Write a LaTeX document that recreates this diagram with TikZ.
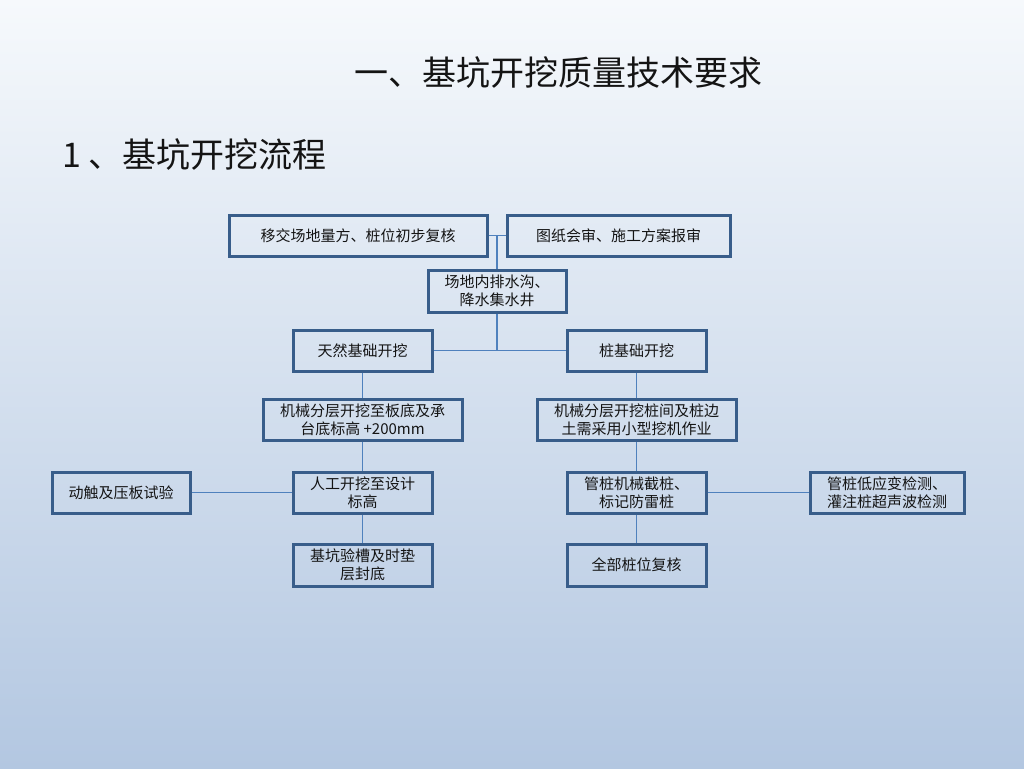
\documentclass[tikz,border=0pt]{standalone}
\usepackage{fontspec}
\setmainfont{Noto Sans CJK SC}
\definecolor{bgtop}{HTML}{F6F9FC}
\definecolor{bgbot}{HTML}{B3C7E1}
\definecolor{boxline}{HTML}{385D8A}
\definecolor{conn}{HTML}{4F81BD}
\begin{document}
\begin{tikzpicture}[x=1pt,y=-1pt,
  stepbox/.style={draw=boxline,line width=3pt,inner sep=0pt,align=center,
    font=\fontsize{15pt}{18pt}\selectfont,text=black!92},
  link/.style={draw=conn,line width=1.5pt}]
\shade[top color=bgtop,bottom color=bgbot] (0,0) rectangle (1024,768);
\useasboundingbox (0,0) rectangle (1024,768);
\node[anchor=center,font=\fontsize{34pt}{38pt}\selectfont,text=black!92] (title) at (558.5,73) {一、基坑开挖质量技术要求};
\node[anchor=west,font=\fontsize{34pt}{38pt}\selectfont,text=black!92,inner sep=0pt] (sub) at (62,155) {1 、基坑开挖流程};
% boxes
\node[stepbox,minimum width=258pt,minimum height=41pt] (b1) at (358,235.5) {移交场地量方、桩位初步复核};
\node[stepbox,minimum width=223pt,minimum height=41pt] (b2) at (618.5,235.5) {图纸会审、施工方案报审};
\node[stepbox,minimum width=138pt,minimum height=42pt] (b3) at (497,291) {场地内排水沟、\\降水集水井};
\node[stepbox,minimum width=139pt,minimum height=41pt] (b4) at (362.5,350.5) {天然基础开挖};
\node[stepbox,minimum width=139pt,minimum height=41pt] (b5) at (636.5,350.5) {桩基础开挖};
\node[stepbox,minimum width=199pt,minimum height=41pt] (b6) at (362.5,419.5) {机械分层开挖至板底及承\\台底标高 +200mm};
\node[stepbox,minimum width=199pt,minimum height=41pt] (b7) at (636.5,419.5) {机械分层开挖桩间及桩边\\土需采用小型挖机作业};
\node[stepbox,minimum width=138pt,minimum height=41pt] (b8) at (121,492.5) {动触及压板试验};
\node[stepbox,minimum width=139pt,minimum height=41pt] (b9) at (362.5,492.5) {人工开挖至设计\\标高};
\node[stepbox,minimum width=139pt,minimum height=41pt] (b10) at (636.5,492.5) {管桩机械截桩、\\标记防雷桩};
\node[stepbox,minimum width=154pt,minimum height=41pt] (b11) at (887,492.5) {管桩低应变检测、\\灌注桩超声波检测};
\node[stepbox,minimum width=139pt,minimum height=42pt] (b12) at (362.5,565) {基坑验槽及时垫\\层封底};
\node[stepbox,minimum width=139pt,minimum height=42pt] (b13) at (636.5,565) {全部桩位复核};
% connectors
\coordinate (j1) at (497,235.5);
\coordinate (j2) at (497,350.5);
\draw[link] (b1.east) -- (b2.west);
\draw[link] (j1) -- (b3.north);
\draw[link] (b3.south) -- (j2);
\draw[link] (b4.east) -- (b5.west);
\draw[link] (b4.south) -- (b6.north);
\draw[link] (b6.south) -- (b9.north);
\draw[link] (b9.south) -- (b12.north);
\draw[link] (b5.south) -- (b7.north);
\draw[link] (b7.south) -- (b10.north);
\draw[link] (b10.south) -- (b13.north);
\draw[link] (b8.east) -- (b9.west);
\draw[link] (b10.east) -- (b11.west);
\end{tikzpicture}
\end{document}
